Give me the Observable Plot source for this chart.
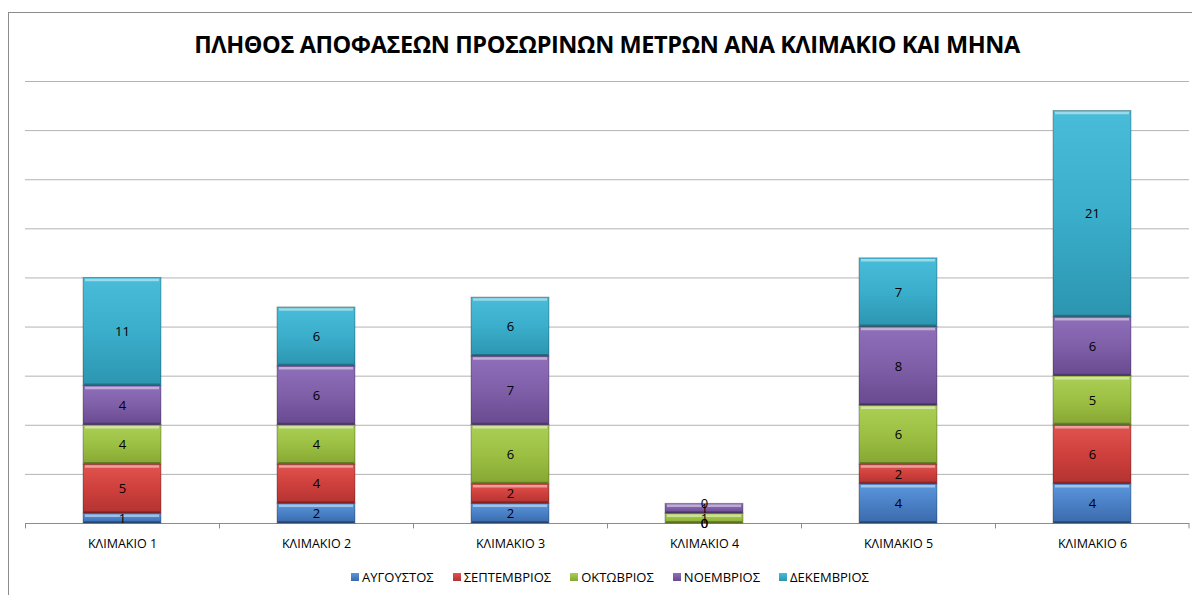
<!DOCTYPE html>
<html>
<head>
<meta charset="utf-8">
<script src="https://cdn.jsdelivr.net/npm/d3@7"></script>
<script src="https://cdn.jsdelivr.net/npm/@observablehq/plot@0.6"></script>
<style>
  html, body { margin: 0; padding: 0; background: #fff; }
  #wrap { position: relative; width: 1192px; height: 595px; overflow: hidden; font-family: "Open Sans", sans-serif; }
  #frame { position: absolute; left: 8px; top: 12px; width: 1300px; height: 700px; border: 1px solid #8c8c8c; box-sizing: border-box; }
  #title { position: absolute; left: 0; top: 28px; width: 1214px; text-align: center; font-weight: bold; font-size: 23.5px; color: #000; letter-spacing: -0.4px; }
  #chart { position: absolute; left: 0; top: 0; }
  #legend { position: absolute; top: 568px; left: 0; width: 1220px; display: flex; justify-content: center; gap: 19px; font-size: 13px; color: #000; }
  #legend .item { display: flex; align-items: center; gap: 3px; }
  #legend .sw { width: 8px; height: 8px; display: inline-block; }
</style>
</head>
<body>
<div id="wrap">
  <div id="frame"></div>
  <div id="chart"></div>
  <div id="title">ΠΛΗΘΟΣ ΑΠΟΦΑΣΕΩΝ ΠΡΟΣΩΡΙΝΩΝ ΜΕΤΡΩΝ ΑΝΑ ΚΛΙΜΑΚΙΟ ΚΑΙ ΜΗΝΑ</div>
  <div id="legend"></div>
</div>
<script>
const categories = ["ΚΛΙΜΑΚΙΟ 1", "ΚΛΙΜΑΚΙΟ 2", "ΚΛΙΜΑΚΙΟ 3", "ΚΛΙΜΑΚΙΟ 4", "ΚΛΙΜΑΚΙΟ 5", "ΚΛΙΜΑΚΙΟ 6"];
const months = ["ΑΥΓΟΥΣΤΟΣ", "ΣΕΠΤΕΜΒΡΙΟΣ", "ΟΚΤΩΒΡΙΟΣ", "ΝΟΕΜΒΡΙΟΣ", "ΔΕΚΕΜΒΡΙΟΣ"];
const august    = [1, 2, 2, 0, 4, 4];
const september = [5, 4, 2, 0, 2, 6];
const october   = [4, 4, 6, 1, 6, 5];
const november  = [4, 6, 7, 1, 8, 6];
const december  = [11, 6, 6, 0, 7, 21];
const yTicks = [0, 5, 10, 15, 20, 25, 30, 35, 40, 45];

const seriesValues = [august, september, october, november, december];
const baseColors = ["#4a80c6", "#cf403d", "#9cc043", "#7f5fa8", "#3aaecb"];
const lightColors = ["#5b97dc", "#e0544f", "#abcf55", "#8f6fba", "#48bcd8"];
const darkColors = ["#3a6aaa", "#b23331", "#86a733", "#684a90", "#2c95b0"];
const gradIds = months.map((m, i) => `grad${i}`);

const data = [];
months.forEach((m, i) => {
  categories.forEach((c, j) => {
    data.push({ category: c, month: m, value: seriesValues[i][j] });
  });
});

const width = 1192, height = 595;
const marginLeft = 25, marginRight = 3, marginTop = 81, marginBottom = 72;
const step = (width - marginLeft - marginRight) / categories.length;

const plot = Plot.plot({
  width, height, marginLeft, marginRight, marginTop, marginBottom,
  style: { fontFamily: "'Open Sans', sans-serif", background: "transparent" },
  x: { domain: categories, paddingInner: 0.6, paddingOuter: 0.3, label: null, tickSize: 0, tickPadding: 16 },
  y: { domain: [0, 45], axis: null },
  color: { domain: months, range: gradIds.map(id => `url(#${id})`) },
  marks: [
    Plot.ruleY(yTicks.slice(1), { stroke: "#b3b3b3", strokeWidth: 1, strokeOpacity: 1 }),
    Plot.ruleY([0], { stroke: "#8c8c8c", strokeWidth: 1.2 }),
    Plot.ruleX(categories, { x: d => d, dx: -step / 2, y1: 0, y2: -0.55, stroke: "#8c8c8c" }),
    Plot.ruleX([categories[categories.length - 1]], { x: d => d, dx: step / 2 - 0.5, y1: 0, y2: -0.55, stroke: "#8c8c8c" }),
    Plot.barY(data, Plot.stackY({ x: "category", y: "value", fill: "month", order: months, stroke: "rgba(0,0,0,0.28)", strokeWidth: 1 })),
    Plot.tickY(data.filter(d => d.value > 0), Plot.stackY2({ x: "category", y: "value", order: months, z: "month", stroke: "rgba(255,255,255,0.45)", strokeWidth: 2.5, dy: 2, inset: 2 })),
    Plot.tickY(data.filter(d => d.value > 0), Plot.stackY1({ x: "category", y: "value", order: months, z: "month", stroke: "rgba(0,0,0,0.25)", strokeWidth: 2, dy: -1.5, inset: 1 })),
    Plot.text(data, Plot.stackY({ x: "category", y: "value", text: d => String(d.value), order: months, z: "month", fill: "#000", fontSize: 13 })),
    Plot.axisX({ tickSize: 0, tickPadding: 16, fontSize: 12.5, fill: "#000" })
  ]
});

// gradient definitions referenced by the color scale range
const ns = "http://www.w3.org/2000/svg";
const defs = document.createElementNS(ns, "defs");
gradIds.forEach((id, i) => {
  const g = document.createElementNS(ns, "linearGradient");
  g.setAttribute("id", id);
  g.setAttribute("x1", "0"); g.setAttribute("y1", "0");
  g.setAttribute("x2", "0"); g.setAttribute("y2", "1");
  [[0, lightColors[i]], [0.5, baseColors[i]], [1, darkColors[i]]].forEach(([o, c]) => {
    const s = document.createElementNS(ns, "stop");
    s.setAttribute("offset", o);
    s.setAttribute("stop-color", c);
    g.appendChild(s);
  });
  defs.appendChild(g);
});
plot.insertBefore(defs, plot.firstChild);
document.getElementById("chart").appendChild(plot);

const legend = document.getElementById("legend");
months.forEach((m, i) => {
  const item = document.createElement("div");
  item.className = "item";
  const sw = document.createElement("span");
  sw.className = "sw";
  sw.style.background = `linear-gradient(${lightColors[i]}, ${darkColors[i]})`;
  const t = document.createElement("span");
  t.textContent = m;
  item.appendChild(sw); item.appendChild(t);
  legend.appendChild(item);
});
</script>
</body>
</html>
